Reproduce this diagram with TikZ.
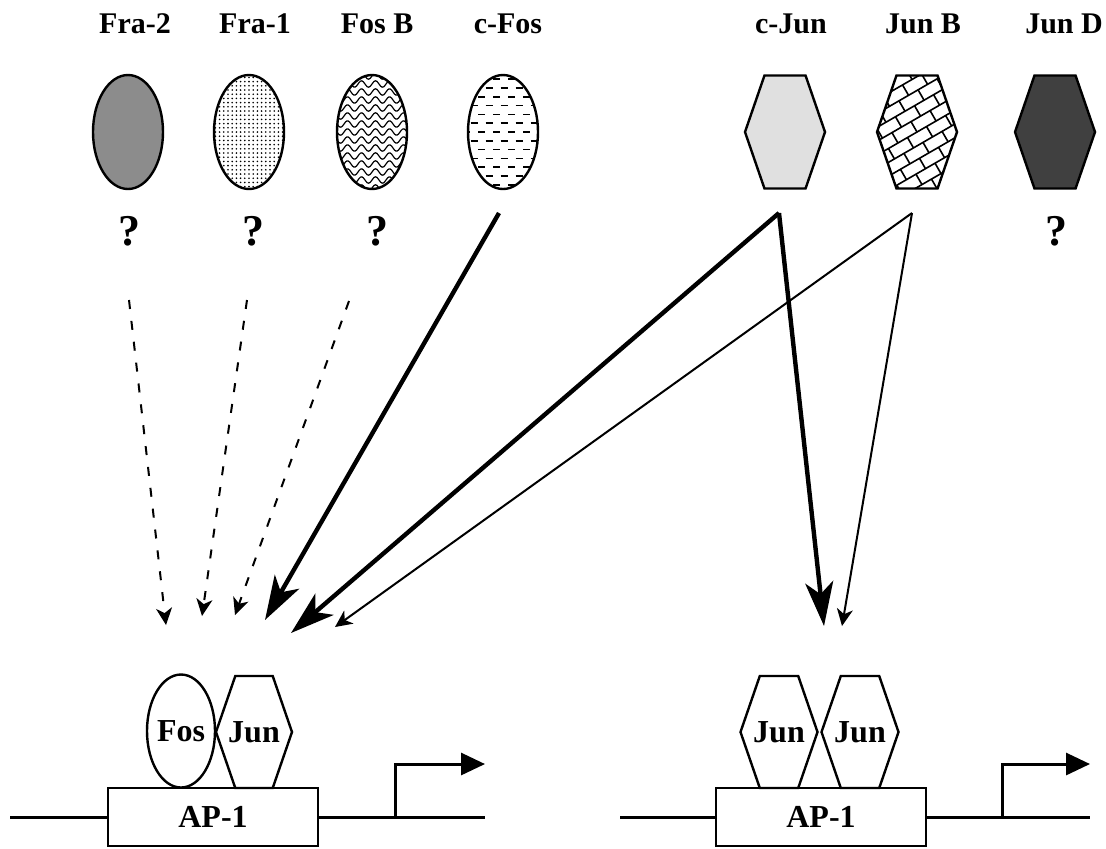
\documentclass[tikz,border=0pt]{standalone}
\usepackage{fontspec}
\setmainfont{Liberation Serif}
\usetikzlibrary{arrows.meta, positioning, shapes.geometric, shapes.symbols}

\begin{document}
\begin{tikzpicture}[
    x=0.5pt, y=-0.5pt,
    >={Stealth[length=8.5pt, width=8pt, inset=2.5pt]},
    every node/.style={font=\bfseries\fontsize{15}{18}\selectfont},
    fosbody/.style={ellipse, draw, line width=1.2pt, inner sep=0pt, minimum width=35pt, minimum height=57pt},
    junbody/.style={signal, signal to=east and west, signal pointer angle=142, draw, line width=1.2pt, inner sep=0pt, minimum width=40pt, minimum height=56.5pt},
    qmark/.style={anchor=base, font=\bfseries\fontsize{22}{24}\selectfont},
    partner/.style={font=\bfseries\fontsize{16}{19}\selectfont},
    sitebox/.style={draw, line width=1.4pt, minimum width=105pt, minimum height=29pt, inner sep=0pt, partner},
    dna/.style={line width=1.5pt},
    maybe/.style={->, line width=1pt, dash pattern=on 4.5pt off 6pt},
    strong/.style={-{Stealth[length=22pt, width=14pt, inset=6pt]}, line width=2.2pt},
    weak/.style={->, line width=1pt},
    % fillings of the family members
    dotfill/.style={path picture={
        \foreach \i in {-9,...,9} \foreach \j in {-14,...,14}
          \fill ([shift={(\i*2.1pt,\j*2.1pt)}]path picture bounding box.center) circle[radius=0.45pt];}},
    wavefill/.style={path picture={
        \foreach \j in {-7,...,7}
          \draw[line width=0.6pt, shift={(path picture bounding box.center)}]
            plot[domain=-20:20, samples=60, smooth] ({\x*1pt}, {(\j*4+1.6*sin(\x*360/7))*1pt});}},
    dashfill/.style={path picture={
        \foreach \j [evaluate=\j as \ph using {mod(\j+10,2)*3.75}] in {-7,...,7}
          \draw[line width=0.8pt, dash pattern=on 3.5pt off 4pt, dash phase=\ph pt]
            ([shift={(-20pt,\j*4.4pt)}]path picture bounding box.center) -- ++(40pt,0pt);}},
    brickfill/.style={path picture={
        \foreach \r in {-8,...,8} {
          \draw[line width=0.8pt]
            ([shift={(30:-70pt)}, shift={(120:{\r*6pt})}]path picture bounding box.center)
            -- ++(30:140pt);
          \foreach \c in {-7,...,7}
            \draw[line width=0.8pt]
              ([shift={(30:{(\c*11+mod(\r+10,2)*5.5)*1pt})}, shift={(120:{\r*6pt})}]path picture bounding box.center)
              -- ++(120:6pt);
        }}}]

  \useasboundingbox (0,0) rectangle (1106,848);

  % family names
  \foreach \x/\n/\t in {135/fra2/Fra-2, 255/fra1/Fra-1, 377/fosb/Fos B, 508/cfos/c-Fos,
                        791/cjun/c-Jun, 923/junb/Jun B, 1064/jund/Jun D}
    \node[anchor=base] (lbl-\n) at (\x,33) {\t};

  % Fos family (ellipses) and Jun family (hexagons)
  \node[fosbody, fill=black!45] (fra2) at (128,132) {};
  \node[fosbody, dotfill] (fra1) at (249,132) {};
  \node[fosbody, wavefill] (fosb) at (372,132) {};
  \node[fosbody, dashfill] (cfos) at (503,132) {};
  \node[junbody, fill=black!12] (cjun) at (785,132) {};
  \node[junbody, brickfill] (junb) at (917,132) {};
  \node[junbody, fill=black!75] (jund) at (1055,132) {};

  \foreach \x/\n in {129/fra2, 253/fra1, 377/fosb, 1056/jund}
    \node[qmark] (q-\n) at (\x,245) {?};

  % free ends of the connectors
  \coordinate (fra2-out) at (129,300);  \coordinate (fra2-in) at (166,625);
  \coordinate (fra1-out) at (247,300);  \coordinate (fra1-in) at (202,616);
  \coordinate (fosb-out) at (349,301);  \coordinate (fosb-in) at (235,615);
  \coordinate (cfos-out) at (499,213);  \coordinate (cfos-in) at (265,620);
  \coordinate (cjun-out) at (779,213);
  \coordinate (cjun-inA) at (291,633); \coordinate (cjun-inB) at (824,626);
  \coordinate (junb-out) at (912,213);
  \coordinate (junb-inA) at (335,627); \coordinate (junb-inB) at (842,626);

  \foreach \n in {fra2, fra1, fosb}
    \draw[maybe] (\n-out) -- (\n-in);
  \draw[strong] (cfos-out) -- (cfos-in);
  \draw[strong] (cjun-out) -- (cjun-inA);
  \draw[strong] (cjun-out) -- (cjun-inB);
  \draw[weak] (junb-out) -- (junb-inA);
  \draw[weak] (junb-out) -- (junb-inB);

  % Fos/Jun dimer on AP-1 site
  \node[sitebox] (siteA) at (213,817) {AP-1};
  \node[fosbody, minimum width=34pt, minimum height=56.5pt, partner] (fosA) at (181,731) {Fos};
  \node[junbody, minimum width=38pt, minimum height=56pt,
        label={[partner, name=junA-t]center:Jun}] (junA) at (254,732) {};
  \coordinate (dnaA-l) at (10,817);  \coordinate (dnaA-r) at (485,817);
  \coordinate (tssA) at (395,817);   \coordinate (tssA-tip) at (485,764);
  \draw[dna] (dnaA-l) -- (siteA.west);
  \draw[dna] (siteA.east) -- (dnaA-r);
  \draw[dna, -{Triangle[length=12pt, width=11pt]}] (tssA) |- (tssA-tip);

  % Jun/Jun dimer on AP-1 site
  \node[sitebox] (siteB) at (821,817) {AP-1};
  \node[junbody, minimum width=38.5pt, minimum height=56pt,
        label={[partner, name=junB1-t]center:Jun}] (junB1) at (779,732) {};
  \node[junbody, minimum width=38.5pt, minimum height=56pt,
        label={[partner, name=junB2-t]center:Jun}] (junB2) at (860,732) {};
  \coordinate (dnaB-l) at (620,817); \coordinate (dnaB-r) at (1090,817);
  \coordinate (tssB) at (1002,817);  \coordinate (tssB-tip) at (1090,764);
  \draw[dna] (dnaB-l) -- (siteB.west);
  \draw[dna] (siteB.east) -- (dnaB-r);
  \draw[dna, -{Triangle[length=12pt, width=11pt]}] (tssB) |- (tssB-tip);
\end{tikzpicture}
\end{document}
